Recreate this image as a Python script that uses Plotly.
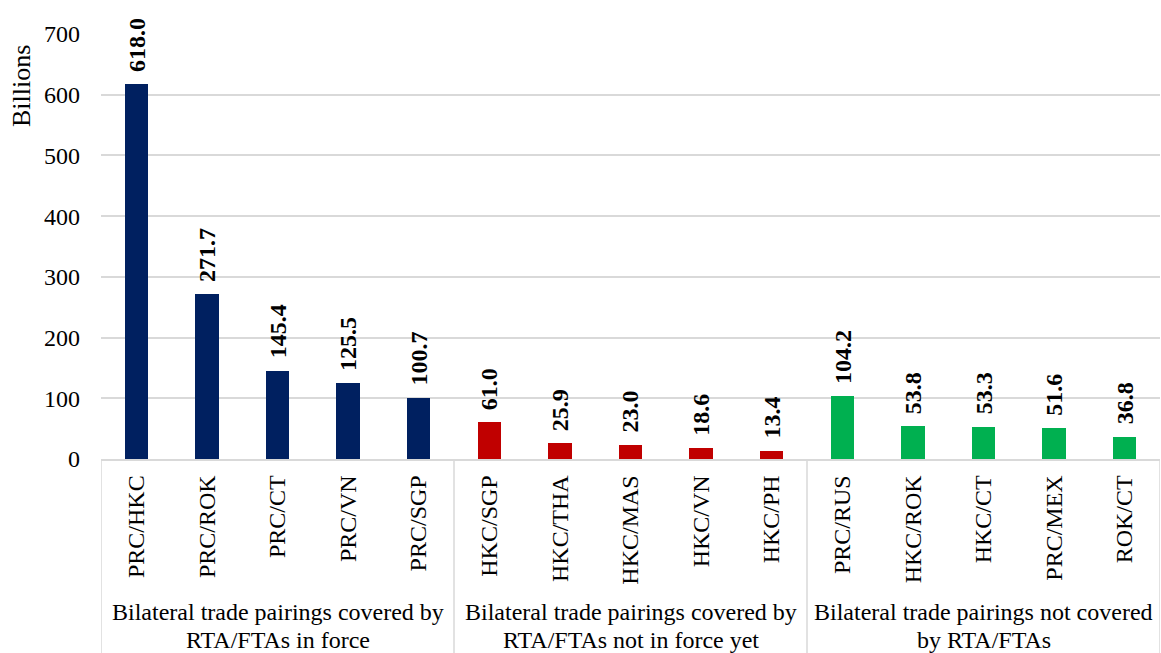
import plotly.graph_objects as go

categories = ["PRC/HKC", "PRC/ROK", "PRC/CT", "PRC/VN", "PRC/SGP",
              "HKC/SGP", "HKC/THA", "HKC/MAS", "HKC/VN", "HKC/PH",
              "PRC/RUS", "HKC/ROK", "HKC/CT", "PRC/MEX", "ROK/CT"]
values = [618.0, 271.7, 145.4, 125.5, 100.7,
          61.0, 25.9, 23.0, 18.6, 13.4,
          104.2, 53.8, 53.3, 51.6, 36.8]
group_line1 = ["Bilateral trade pairings covered by",
               "Bilateral trade pairings covered by",
               "Bilateral trade pairings not covered"]
group_line2 = ["RTA/FTAs in force",
               "RTA/FTAs not in force yet",
               "by RTA/FTAs"]
group_sizes = [5, 5, 5]
group_colors = ["#002060", "#C00000", "#00B050"]
y_ticks = [0, 100, 200, 300, 400, 500, 600, 700]

FONT = "Liberation Serif, Times New Roman, serif"
FS = 24

colors = []
for c, n in zip(group_colors, group_sizes):
    colors += [c] * n

xs = list(range(len(categories)))

fig = go.Figure()
fig.add_trace(go.Bar(
    x=xs, y=values, marker=dict(color=colors, line=dict(width=0)),
    width=0.33, showlegend=False, hoverinfo="x+y",
))

annotations = []
for x, v in zip(xs, values):
    annotations.append(dict(
        x=x, y=v, xref="x", yref="y", text=f"<b>{v:.1f}</b>",
        textangle=-90, showarrow=False, yanchor="bottom", xanchor="center",
        yshift=10, font=dict(family=FONT, size=FS, color="#000000"),
    ))

shapes = []
start = 0
PLOT_H = 425
bottom_paper = -(653 - 459) / PLOT_H
shapes.append(dict(type="line", xref="x", yref="paper", x0=-0.5, x1=-0.5,
                   y0=0, y1=bottom_paper, line=dict(color="#D9D9D9", width=1.5)))
for l1, l2, n in zip(group_line1, group_line2, group_sizes):
    center = start + (n - 1) / 2
    for txt, ypix in ((l1, 612), (l2, 640)):
        annotations.append(dict(
            x=center, y=-(ypix - 459) / PLOT_H, xref="x", yref="paper", text=txt,
            showarrow=False, xanchor="center", yanchor="middle", align="center",
            font=dict(family=FONT, size=FS, color="#000000"),
        ))
    end = start + n - 0.5
    shapes.append(dict(type="line", xref="x", yref="paper", x0=end, x1=end,
                       y0=0, y1=bottom_paper, line=dict(color="#D9D9D9", width=1.5)))
    start += n

annotations.append(dict(
    x=(22 - 101) / 1059, y=(459 - 43) / PLOT_H, xref="paper", yref="paper",
    text="Billions", textangle=-90, showarrow=False, xanchor="center", yanchor="top",
    font=dict(family=FONT, size=26, color="#000000"),
))

fig.update_layout(
    width=1161, height=653,
    margin=dict(l=101, r=1, t=34, b=194),
    paper_bgcolor="white", plot_bgcolor="white",
    font=dict(family=FONT, size=FS, color="#000000"),
    annotations=annotations, shapes=shapes,
    xaxis=dict(
        range=[-0.5, len(categories) - 0.5], tickmode="array", tickvals=xs,
        ticktext=categories, tickangle=-90, showgrid=False, showline=True,
        linecolor="#D9D9D9", linewidth=1.5, ticks="", ticklabelstandoff=5,
        tickfont=dict(family=FONT, size=FS, color="#000000"), fixedrange=True,
    ),
    yaxis=dict(
        range=[0, 700], tickmode="array", tickvals=y_ticks,
        showgrid=True, gridcolor="#D9D9D9", gridwidth=1.5, zeroline=False,
        showline=False, ticks="", ticklabelstandoff=20,
        tickfont=dict(family=FONT, size=FS, color="#000000"), fixedrange=True,
    ),
    bargap=0,
)

fig.write_html("out.html", config={"displayModeBar": False},
               post_script="document.body.style.margin='0';")
